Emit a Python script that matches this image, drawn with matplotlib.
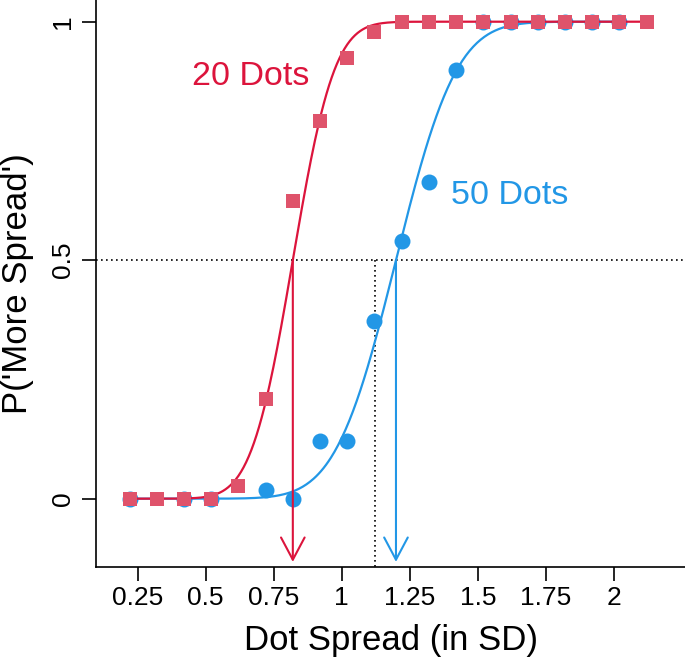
import math
import numpy as np
import matplotlib
matplotlib.use('Agg')
import matplotlib.pyplot as plt

plt.rcParams['font.family'] = ['Liberation Sans', 'DejaVu Sans']

# observed proportions
red_x = [0.22, 0.32, 0.42, 0.52, 0.62, 0.72, 0.82, 0.92, 1.02, 1.12,
         1.22, 1.32, 1.42, 1.52, 1.62, 1.72, 1.82, 1.92, 2.02, 2.12]
red_y = [0, 0, 0, 0, 0.027, 0.208, 0.624, 0.792, 0.923, 0.979,
         1, 1, 1, 1, 1, 1, 1, 1, 1, 1]
blue_x = [0.22, 0.42, 0.52, 0.72, 0.82, 0.92, 1.02, 1.12, 1.22, 1.32,
          1.42, 1.52, 1.62, 1.72, 1.82, 1.92, 2.02]
blue_y = [0, 0, 0, 0.019, 0, 0.121, 0.121, 0.373, 0.541, 0.664,
          0.899, 1, 1, 1, 1, 1, 1]

# fitted psychometric functions (cumulative normal)
red_pse, red_sd = 0.82, 0.12
blue_pse, blue_sd = 1.199, 0.175
ref_x = 1.122

xticks = [0.25, 0.5, 0.75, 1, 1.25, 1.5, 1.75, 2]
xtick_labels = ['0.25', '0.5', '0.75', '1', '1.25', '1.5', '1.75', '2']
yticks = [0, 0.5, 1]
ytick_labels = ['0', '0.5', '1']

red_line = '#DC143C'
red_pt = '#DF536B'
blue = '#2297E6'


def cum_normal(x, mu, sd):
    return np.array([0.5 * (1 + math.erf((v - mu) / (sd * math.sqrt(2)))) for v in x])


fig = plt.figure(figsize=(6.85, 6.59), dpi=100)
ax = fig.add_axes([96 / 685, 92.3 / 659, 589 / 685, 566.7 / 659])
ax.set_xlim(0.0968, 2.261)
ax.set_ylim(-0.1426, 1.0455)

bottom = ax.get_ylim()[0]
tip = -0.1326

# reference lines
ax.axhline(0.5, color='black', lw=1.2, ls=(0, (1, 2)), zorder=1)
ax.plot([ref_x, ref_x], [0.5, bottom], color='black', lw=1.2, ls=(0, (1, 2)), zorder=1)

# blue (50 dots)
xb = np.linspace(blue_x[0], blue_x[-1], 400)
ax.plot(xb, cum_normal(xb, blue_pse, blue_sd), color=blue, lw=1.6, zorder=2)
ax.plot(blue_x, blue_y, 'o', color=blue, ms=11.5, mew=0, zorder=3)

# red (20 dots)
xr = np.linspace(red_x[0], red_x[-1], 400)
ax.plot(xr, cum_normal(xr, red_pse, red_sd), color=red_line, lw=1.6, zorder=4)
ax.plot(red_x, red_y, 's', color=red_pt, ms=10, mew=0, zorder=5)

# PSE arrows
for pse, col in [(red_pse, red_line), (blue_pse, blue)]:
    ax.annotate('', xy=(pse, tip), xytext=(pse, 0.5),
                arrowprops=dict(arrowstyle='->,head_length=1.6,head_width=0.85',
                                color=col, lw=1.5, mutation_scale=10,
                                shrinkA=0, shrinkB=0), zorder=6)

ax.text(0.666, 0.867, '20 Dots', color=red_line, fontsize=24.5, ha='center', va='baseline')
ax.text(1.618, 0.618, '50 Dots', color=blue, fontsize=24.5, ha='center', va='baseline')

for s in ['top', 'right']:
    ax.spines[s].set_visible(False)
for s in ['left', 'bottom']:
    ax.spines[s].set_linewidth(1.2)

ax.set_xticks(xticks)
ax.set_xticklabels(xtick_labels)
ax.set_yticks(yticks)
ax.set_yticklabels(ytick_labels)
ax.tick_params(axis='both', direction='out', length=10, width=1.2, labelsize=19)
ax.tick_params(axis='x', pad=4)
ax.tick_params(axis='y', pad=5)
for lab in ax.get_yticklabels():
    lab.set_rotation(90)
    lab.set_va('center')

ax.set_xlabel('Dot Spread (in SD)', fontsize=25)
ax.xaxis.label.set_va('baseline')
ax.xaxis.set_label_coords(0.5, -0.147)
ax.set_ylabel("P('More Spread')", fontsize=25)
ax.yaxis.set_label_coords(-0.106, 0.5)

fig.savefig('out.png', dpi=100)
